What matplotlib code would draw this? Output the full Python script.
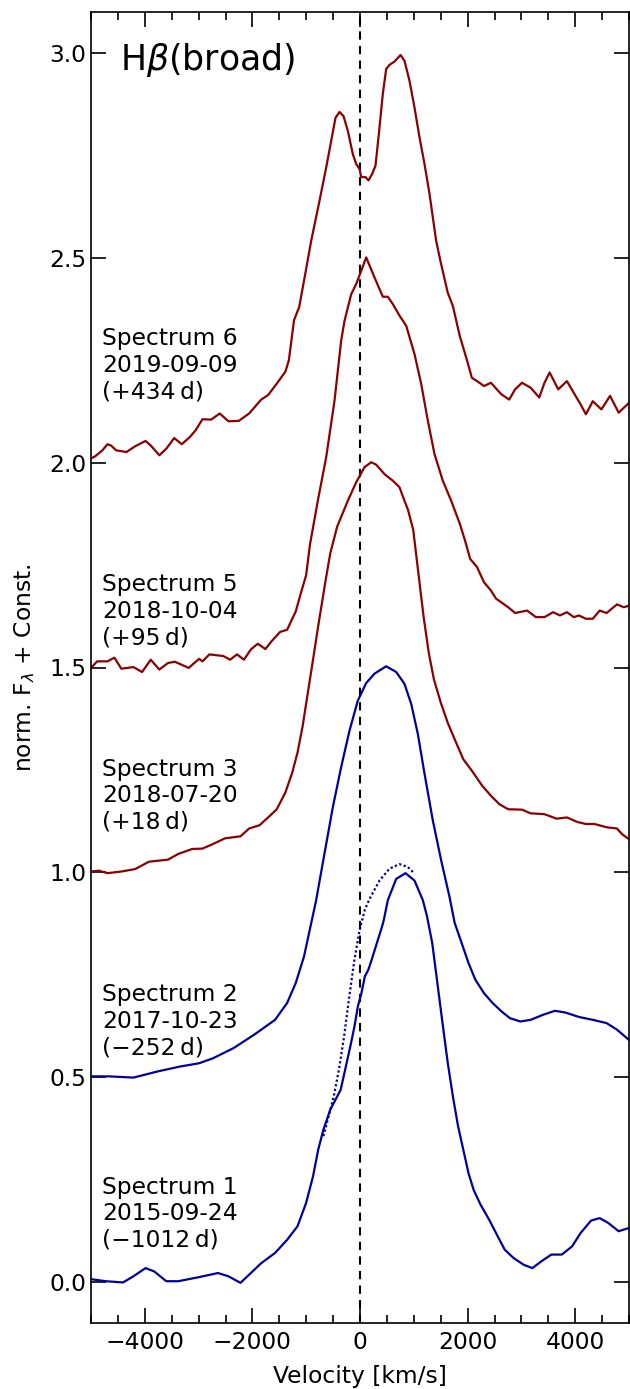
import matplotlib
matplotlib.use("Agg")
import matplotlib.pyplot as plt
from matplotlib.ticker import MultipleLocator

# Velocity grids [km/s] and normalised flux (+ constant offset) for each epoch
vel_s6 = [-5000, -4918, -4789, -4693, -4629, -4532, -4340, -4179, -3986, -3890, -3730, -3601,
          -3454, -3312, -3152, -3056, -2928, -2767, -2607, -2446, -2253, -2061, -1836, -1708,
          -1547, -1387, -1322, -1226, -1130, -1002, -908, -753, -629, -536, -455, -381, -307,
          -226, -133, -71, -9, 22, 102, 158, 227, 288, 350, 424, 487, 548, 641, 753, 827, 920,
          1013, 1106, 1199, 1292, 1416, 1502, 1631, 1727, 1855, 1984, 2080, 2176, 2305, 2433,
          2626, 2773, 2883, 3011, 3172, 3332, 3429, 3525, 3685, 3846, 4006, 4102, 4199, 4327,
          4487, 4648, 4808, 5000]
flux_s6 = [2.010, 2.016, 2.030, 2.045, 2.042, 2.030, 2.026, 2.040, 2.053, 2.042, 2.018, 2.034,
           2.060, 2.045, 2.064, 2.079, 2.106, 2.105, 2.120, 2.101, 2.102, 2.120, 2.154, 2.165,
           2.193, 2.222, 2.250, 2.348, 2.380, 2.472, 2.541, 2.639, 2.720, 2.785, 2.842, 2.856,
           2.846, 2.810, 2.753, 2.729, 2.717, 2.697, 2.697, 2.689, 2.705, 2.725, 2.802, 2.900,
           2.961, 2.971, 2.979, 2.995, 2.981, 2.932, 2.867, 2.794, 2.729, 2.656, 2.541, 2.488,
           2.415, 2.382, 2.309, 2.252, 2.207, 2.199, 2.187, 2.195, 2.167, 2.154, 2.179, 2.195,
           2.183, 2.159, 2.195, 2.220, 2.179, 2.199, 2.163, 2.142, 2.118, 2.150, 2.130, 2.163,
           2.122, 2.146]

vel_s5 = [-5000, -4886, -4693, -4565, -4436, -4211, -4051, -3890, -3730, -3569, -3441, -3184,
          -2992, -2928, -2799, -2542, -2414, -2286, -2157, -2029, -1900, -1759, -1644, -1483,
          -1355, -1194, -1098, -1002, -930, -784, -629, -474, -350, -288, -164, -71, 22, 115,
          270, 424, 517, 610, 734, 859, 1013, 1138, 1260, 1385, 1539, 1695, 1855, 1952, 2048,
          2176, 2305, 2433, 2529, 2658, 2755, 2883, 3107, 3268, 3429, 3589, 3717, 3846, 3974,
          4070, 4199, 4327, 4455, 4584, 4776, 4905, 5000]
flux_s5 = [1.499, 1.515, 1.515, 1.524, 1.497, 1.501, 1.489, 1.519, 1.495, 1.511, 1.514, 1.499,
           1.521, 1.515, 1.532, 1.528, 1.519, 1.532, 1.519, 1.544, 1.558, 1.545, 1.564, 1.587,
           1.592, 1.637, 1.682, 1.725, 1.800, 1.907, 2.013, 2.151, 2.298, 2.346, 2.411, 2.436,
           2.468, 2.501, 2.452, 2.405, 2.405, 2.387, 2.359, 2.334, 2.265, 2.192, 2.103, 2.021,
           1.956, 1.907, 1.851, 1.810, 1.765, 1.745, 1.708, 1.688, 1.668, 1.656, 1.647, 1.633,
           1.639, 1.623, 1.623, 1.635, 1.627, 1.635, 1.623, 1.627, 1.619, 1.619, 1.639, 1.633,
           1.654, 1.647, 1.651]

vel_s3 = [-5000, -4854, -4693, -4436, -4179, -3922, -3569, -3377, -3120, -2928, -2735, -2510,
          -2221, -2061, -1868, -1708, -1547, -1387, -1258, -1162, -1066, -970, -873, -777, -648,
          -552, -424, -226, -71, 84, 208, 301, 455, 610, 734, 827, 892, 989, 1085, 1181, 1278,
          1374, 1502, 1631, 1759, 1920, 2080, 2273, 2433, 2594, 2755, 3011, 3172, 3429, 3653,
          3846, 4038, 4199, 4359, 4584, 4776, 4873, 5000]
flux_s3 = [1.002, 1.004, 0.998, 1.002, 1.008, 1.026, 1.031, 1.045, 1.057, 1.058, 1.069, 1.083,
           1.088, 1.107, 1.115, 1.134, 1.154, 1.195, 1.244, 1.292, 1.357, 1.438, 1.519, 1.601,
           1.706, 1.779, 1.844, 1.907, 1.952, 1.989, 2.001, 1.995, 1.972, 1.956, 1.940, 1.907,
           1.885, 1.836, 1.731, 1.625, 1.536, 1.471, 1.414, 1.365, 1.325, 1.276, 1.248, 1.211,
           1.187, 1.166, 1.154, 1.153, 1.144, 1.142, 1.131, 1.134, 1.123, 1.118, 1.118, 1.110,
           1.107, 1.093, 1.081]

vel_s2 = [-5000, -4661, -4211, -3762, -3345, -2992, -2735, -2350, -1964, -1579, -1355, -1194,
          -1040, -930, -815, -660, -505, -350, -195, -41, 115, 270, 487, 673, 827, 952, 1075,
          1199, 1353, 1509, 1664, 1759, 1888, 2016, 2144, 2305, 2465, 2626, 2787, 2980, 3172,
          3396, 3621, 3813, 4070, 4327, 4584, 4776, 5000]
flux_s2 = [0.502, 0.502, 0.499, 0.514, 0.526, 0.534, 0.546, 0.571, 0.604, 0.640, 0.681, 0.730,
           0.795, 0.862, 0.932, 1.046, 1.159, 1.257, 1.346, 1.419, 1.462, 1.485, 1.503, 1.489,
           1.460, 1.411, 1.338, 1.241, 1.127, 1.029, 0.940, 0.877, 0.828, 0.779, 0.738, 0.705,
           0.681, 0.661, 0.644, 0.636, 0.640, 0.652, 0.662, 0.658, 0.647, 0.640, 0.632, 0.616,
           0.591]

vel_s1 = [-5000, -4725, -4404, -4211, -3987, -3826, -3601, -3377, -2992, -2639, -2446, -2221,
          -2029, -1836, -1579, -1355, -1162, -1002, -873, -777, -680, -552, -456, -360, -263,
          -167, -103, -39, 26, 90, 154, 218, 315, 411, 443, 517, 673, 846, 1013, 1168, 1245,
          1342, 1438, 1534, 1631, 1727, 1823, 1920, 2016, 2112, 2240, 2401, 2562, 2690, 2851,
          3043, 3204, 3365, 3557, 3750, 3942, 4102, 4295, 4455, 4616, 4808, 5000]
flux_s1 = [0.007, 0.002, -0.001, 0.014, 0.034, 0.026, 0.002, 0.002, 0.012, 0.022, 0.014, -0.002,
           0.022, 0.046, 0.071, 0.103, 0.136, 0.193, 0.258, 0.323, 0.372, 0.421, 0.445, 0.469,
           0.526, 0.583, 0.624, 0.673, 0.705, 0.746, 0.762, 0.787, 0.828, 0.868, 0.884, 0.932,
           0.984, 0.998, 0.980, 0.932, 0.893, 0.828, 0.730, 0.632, 0.535, 0.453, 0.380, 0.323,
           0.266, 0.225, 0.189, 0.152, 0.111, 0.079, 0.059, 0.042, 0.034, 0.050, 0.067, 0.067,
           0.087, 0.120, 0.150, 0.156, 0.144, 0.124, 0.132]

# Fitted profile for the blue wing of spectrum 1
vel_fit = [-680, -584, -488, -392, -295, -199, -103, -6, 90, 177, 363, 548, 734, 889, 1013]
flux_fit = [0.356, 0.404, 0.453, 0.518, 0.600, 0.697, 0.787, 0.860, 0.909, 0.935, 0.980,
            1.009, 1.020, 1.013, 0.997]

epoch_labels = [
    "Spectrum 6\n2019-09-09\n(+434\u2009d)",
    "Spectrum 5\n2018-10-04\n(+95\u2009d)",
    "Spectrum 3\n2018-07-20\n(+18\u2009d)",
    "Spectrum 2\n2017-10-23\n(\u2212252\u2009d)",
    "Spectrum 1\n2015-09-24\n(\u22121012\u2009d)",
]
label_tops = [2.33, 1.73, 1.28, 0.73, 0.26]

red = "#8b0000"
blue = "#00009a"
fs = 16.8

fig = plt.figure(figsize=(6.3, 13.89), dpi=100)
ax = fig.add_axes([91 / 630, 66 / 1389, 538 / 630, 1311 / 1389])

ax.axvline(0, color="black", ls="--", lw=1.5, dashes=(4, 3), zorder=1)

series = [(vel_s6, flux_s6, red), (vel_s5, flux_s5, red), (vel_s3, flux_s3, red),
          (vel_s2, flux_s2, blue), (vel_s1, flux_s1, blue)]
for v, f, c in series:
    ax.plot(v, f, color=c, lw=1.6, zorder=2, solid_joinstyle="round")
ax.plot(vel_fit, flux_fit, color=blue, lw=1.6, ls=(0, (1, 1.1)), zorder=2)

for text, ytop in zip(epoch_labels, label_tops):
    ax.text(-4800, ytop, text, fontsize=fs, va="top", ha="left", linespacing=1.2)

ax.text(0.054, 0.978, r"H$\beta$(broad)", transform=ax.transAxes, fontsize=25,
        va="top", ha="left")

ax.set_xlim(-5000, 5000)
ax.set_ylim(-0.1, 3.1)
ax.xaxis.set_major_locator(MultipleLocator(2000))
ax.xaxis.set_minor_locator(MultipleLocator(500))
ax.yaxis.set_major_locator(MultipleLocator(0.5))
ax.tick_params(which="both", direction="in", top=True, right=True, labelsize=fs, width=1.2)
ax.tick_params(which="major", length=11)
ax.tick_params(which="minor", length=6)
ax.tick_params(axis="x", which="major", pad=6)
ax.tick_params(axis="y", which="minor", left=False, right=False)
for s in ax.spines.values():
    s.set_linewidth(1.2)

ax.set_xlabel("Velocity [km/s]", fontsize=fs, labelpad=8)
ax.set_ylabel(r"norm. F$_\lambda$ + Const.", fontsize=fs, labelpad=9)

fig.savefig("out.png", dpi=100)
